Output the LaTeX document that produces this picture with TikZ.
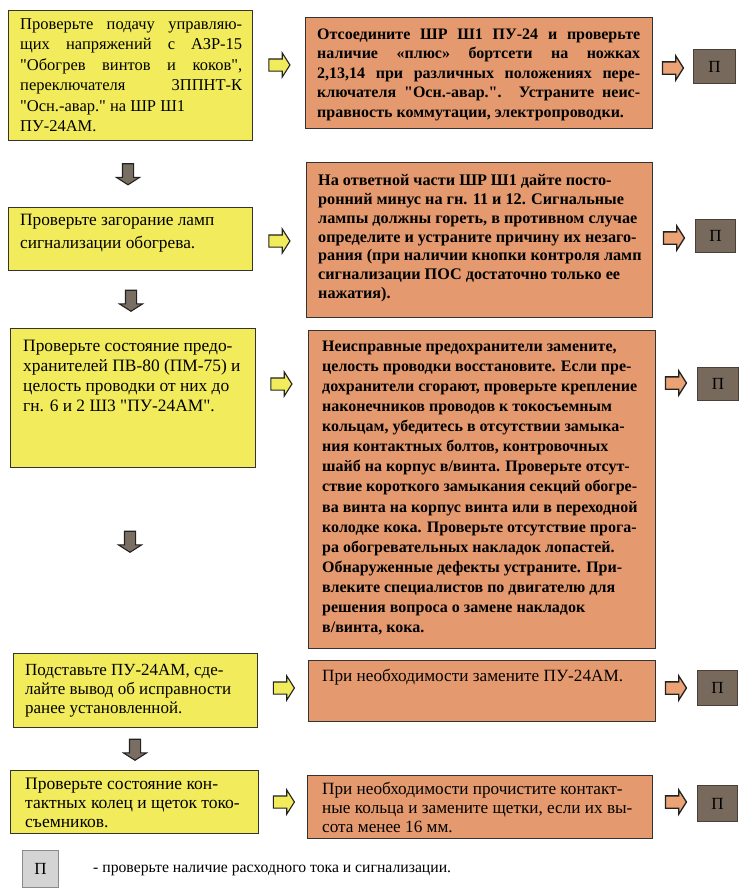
\documentclass[tikz,border=0pt]{standalone}
\usepackage{fontspec}
\setmainfont{Liberation Serif}[Ligatures=TeXOff]
\usetikzlibrary{shapes.arrows,calc}
\definecolor{yel}{HTML}{F2EC5C}
\definecolor{org}{HTML}{E49A6E}
\definecolor{oarrc}{HTML}{EBA275}
\definecolor{pfill}{HTML}{77695C}
\definecolor{pline}{HTML}{4A4038}
\definecolor{dfill}{HTML}{7A6E62}
\definecolor{boxline}{HTML}{333333}
\definecolor{arrline}{HTML}{222222}
\definecolor{lgfill}{HTML}{D4D4D4}
\definecolor{lgline}{HTML}{8A8A8A}
\newcommand{\jl}[2]{\makebox[#1][s]{#2}}
\begin{document}
\begin{tikzpicture}[x=1pt,y=-1pt,
 box/.style={draw=boxline, line width=0.9pt, anchor=north west, inner sep=0pt},
 ybox/.style={box, fill=yel},
 obox/.style={box, fill=org},
 pbox/.style={draw=pline, fill=pfill, text=black, line width=0.9pt, anchor=north west, inner sep=0pt, font=\fontsize{17}{17}\selectfont},
 txt/.style={anchor=north west, inner sep=0pt, align=left},
 ytxt/.style={txt, font=\fontsize{16.5}{20.4}\selectfont},
 otxt/.style={txt, font=\bfseries\fontsize{16}{19.5}\selectfont},
 rarr/.style={single arrow, draw=arrline, line width=1.1pt, minimum height=21pt, inner xsep=0pt, inner ysep=5.5pt, single arrow head extend=6pt, single arrow tip angle=115},
 yarr/.style={rarr, fill=yel},
 oarr/.style={rarr, fill=oarrc, line width=1.3pt},
 darr/.style={rarr, fill=dfill, inner xsep=5pt, inner ysep=0pt, shape border rotate=270},
]
\useasboundingbox (0,0) rectangle (750,894);

% ---- row 1
\node[ybox, minimum width=244pt, minimum height=130pt] (b1) at (8,10) {};
\node[ytxt] (t1) at ($(b1.north west)+(12,8.4)$) {\jl{222pt}{Проверьте подачу управляю-}\\
\jl{222pt}{щих напряжений с АЗР-15}\\
\jl{222pt}{"Обогрев винтов и коков",}\\
\jl{222pt}{переключателя 3ППНТ-К}\\
"Осн.-авар." на ШР Ш1\\
ПУ-24АМ.};
\node[obox, minimum width=347pt, minimum height=111pt] (b1r) at (305,17) {};
\node[otxt] (t1r) at ($(b1r.north west)+(12,11.4)$) {\jl{323pt}{Отсоедините ШР Ш1 ПУ-24 и проверьте}\\
\jl{323pt}{наличие «плюс» бортсети на ножках}\\
\jl{323pt}{2,13,14 при различных положениях пере-}\\
\jl{323pt}{ключателя "Осн.-авар.". Устраните неис-}\\
правность коммутации, электропроводки.};
\node[pbox, minimum width=42pt, minimum height=34pt] (p1) at (693,49) {П};
\node[yarr] (a1) at (277.5,65) {};
\node[oarr] (c1) at (671,68) {};

% ---- row 2
\node[darr] (d1) at (128,172.5) {};
\node[ybox, minimum width=244pt, minimum height=63pt] (b2) at (8,207) {};
\node[ytxt, font=\fontsize{17.3}{23}\selectfont] (t2) at ($(b2.north west)+(12,7)$) {Проверьте загорание ламп\\
сигнализации обогрева.};
\node[obox, minimum width=346pt, minimum height=155pt] (b2r) at (306,162) {};
\node[otxt, font=\bfseries\fontsize{16.2}{18.7}\selectfont] (t2r) at ($(b2r.north west)+(12,12.6)$) {На ответной части ШР Ш1 дайте посто-\\
ронний минус на гн. 11 и 12. Сигнальные\\
лампы должны гореть, в противном случае\\
определите и устраните причину их незаго-\\
рания (при наличии кнопки контроля ламп\\
сигнализации ПОС достаточно только ее\\
нажатия).};
\node[pbox, minimum width=40pt, minimum height=33pt] (p2) at (695,219) {П};
\node[yarr] (a2) at (277.5,241) {};
\node[oarr] (c2) at (672,238) {};

% ---- row 3
\node[darr] (d2) at (131,299) {};
\node[ybox, minimum width=245pt, minimum height=139pt] (b3) at (10,328) {};
\node[ytxt, font=\fontsize{17.4}{20}\selectfont] (t3) at ($(b3.north west)+(13,11.5)$) {Проверьте состояние предо-\\
хранителей ПВ-80 (ПМ-75) и\\
целость проводки от них до\\
гн. 6 и 2 Ш3 "ПУ-24АМ".};
\node[obox, minimum width=347pt, minimum height=318pt] (b3r) at (308,330) {};
\node[otxt, font=\bfseries\fontsize{16}{20.1}\selectfont] (t3r) at ($(b3r.north west)+(14,10.6)$) {Неисправные предохранители замените,\\
целость проводки восстановите. Если пре-\\
дохранители сгорают, проверьте крепление\\
наконечников проводов к токосъемным\\
кольцам, убедитесь в отсутствии замыка-\\
ния контактных болтов, контровочных\\
шайб на корпус в/винта. Проверьте отсут-\\
ствие короткого замыкания секций обогре-\\
ва винта на корпус винта или в переходной\\
колодке кока. Проверьте отсутствие прога-\\
ра обогревательных накладок лопастей.\\
Обнаруженные дефекты устраните. При-\\
влеките специалистов по двигателю для\\
решения вопроса о замене накладок\\
в/винта, кока.};
\node[pbox, minimum width=41pt, minimum height=33pt] (p3) at (697,367) {П};
\node[yarr] (a3) at (279.5,384) {};
\node[oarr] (c3) at (674,383) {};

% ---- row 4
\node[darr] (d3) at (130,540) {};
\node[ybox, minimum width=244pt, minimum height=74pt] (b4) at (13,653) {};
\node[ytxt, font=\fontsize{17}{19}\selectfont] (t4) at ($(b4.north west)+(12,11)$) {Подставьте ПУ-24АМ, сде-\\
лайте вывод об исправности\\
ранее установленной.};
\node[obox, minimum width=347pt, minimum height=61pt] (b4r) at (308,660) {};
\node[txt, font=\fontsize{17.2}{19}\selectfont] (t4r) at ($(b4r.north west)+(14,9)$) {При необходимости замените ПУ-24АМ.};
\node[pbox, minimum width=40pt, minimum height=35pt] (p4) at (697,670) {П};
\node[yarr] (a4) at (282,688) {};
\node[oarr] (c4) at (674,688) {};

% ---- row 5
\node[darr] (d4) at (135,748) {};
\node[ybox, minimum width=248pt, minimum height=63pt] (b5) at (10,770) {};
\node[ytxt, font=\fontsize{17.5}{19}\selectfont] (t5) at ($(b5.north west)+(15,8)$) {Проверьте состояние кон-\\
тактных колец и щеток токо-\\
съемников.};
\node[obox, minimum width=345pt, minimum height=63pt] (b5r) at (307,775) {};
\node[txt, font=\fontsize{17.2}{19}\selectfont] (t5r) at ($(b5r.north west)+(15,7)$) {При необходимости прочистите контакт-\\
ные кольца и замените щетки, если их вы-\\
сота менее 16 мм.};
\node[pbox, minimum width=40pt, minimum height=36pt] (p5) at (697,785) {П};
\node[yarr] (a5) at (282,802) {};
\node[oarr] (c5) at (674,802) {};

% ---- legend
\node[draw=lgline, fill=lgfill, line width=0.9pt, anchor=north west, inner sep=0pt, minimum width=36pt, minimum height=37pt, font=\fontsize{17}{17}\selectfont] (lg) at (22,850) {П};
\node[anchor=west, inner sep=0pt, font=\fontsize{15.7}{17}\selectfont] (lgt) at (93,870) {- проверьте наличие расходного тока и сигнализации.};
\end{tikzpicture}
\end{document}
